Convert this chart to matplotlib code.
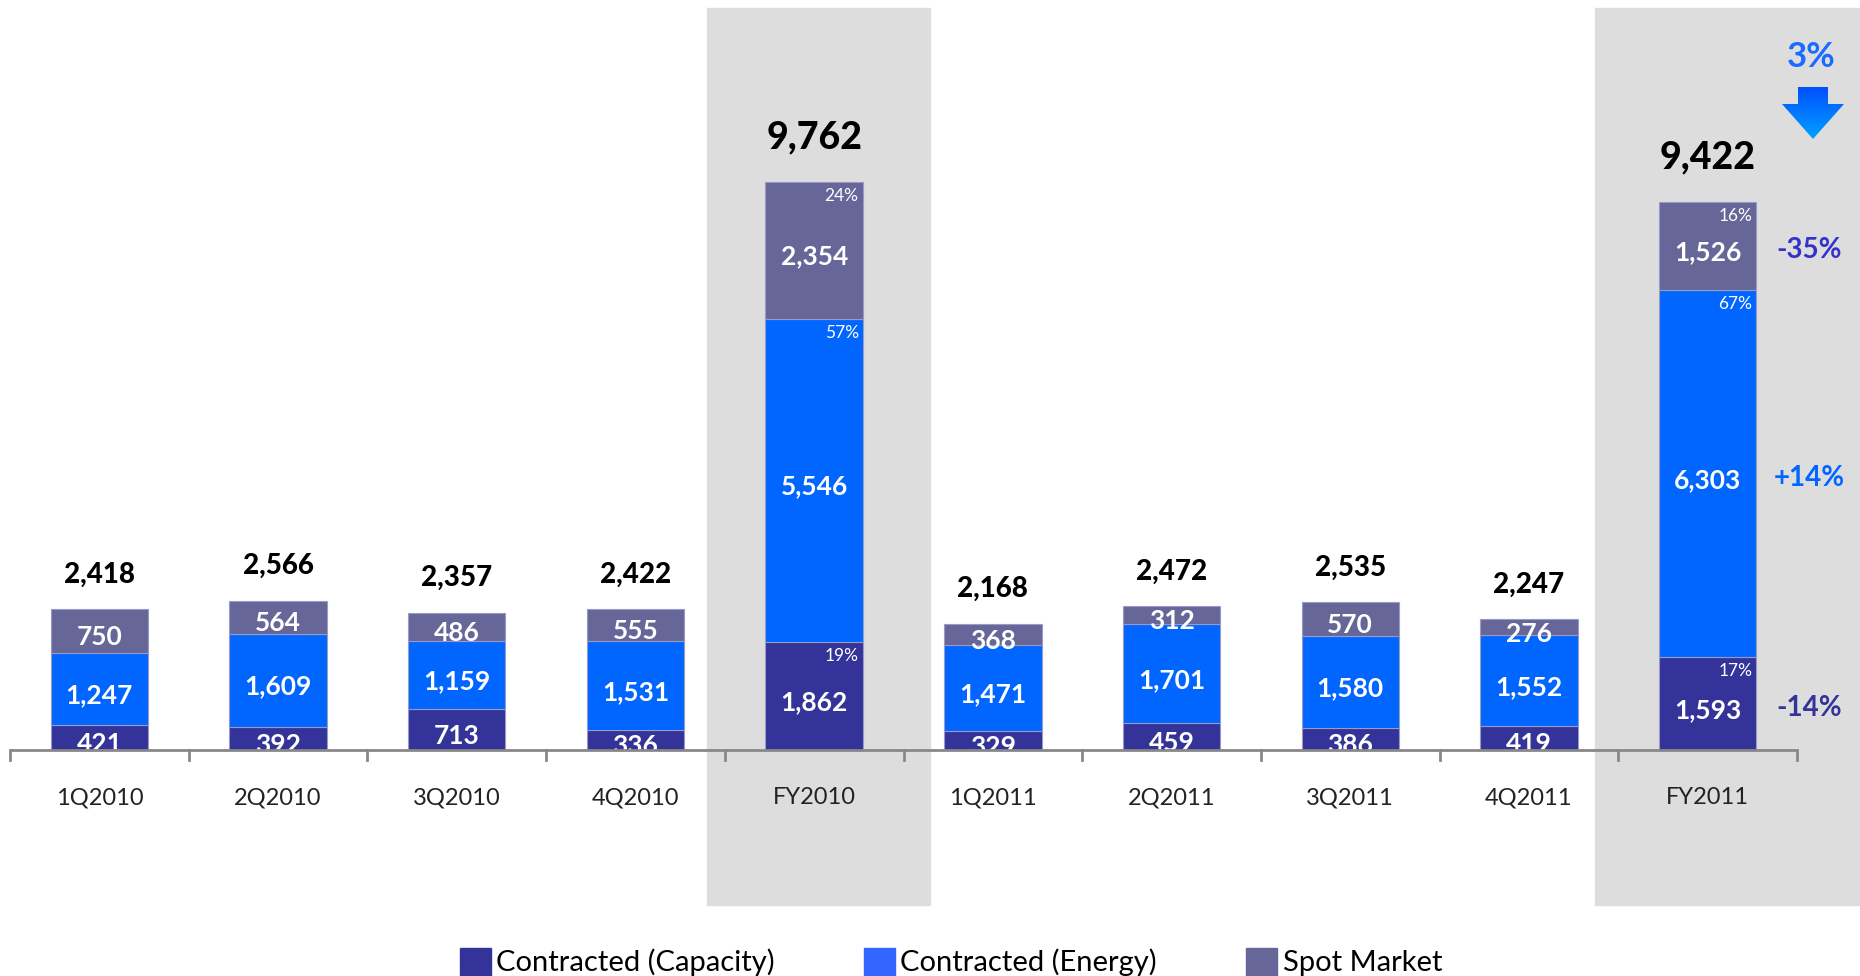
import matplotlib.pyplot as plt
import numpy as np
import matplotlib
from matplotlib.patches import Rectangle, Polygon

matplotlib.rcParams['font.family'] = ['Lato', 'DejaVu Sans']

categories = ['1Q2010', '2Q2010', '3Q2010', '4Q2010', 'FY2010',
              '1Q2011', '2Q2011', '3Q2011', '4Q2011', 'FY2011']
capacity = [421, 392, 713, 336, 1862, 329, 459, 386, 419, 1593]
energy = [1247, 1609, 1159, 1531, 5546, 1471, 1701, 1580, 1552, 6303]
spot = [750, 564, 486, 555, 2354, 368, 312, 570, 276, 1526]
totals = [2418, 2566, 2357, 2422, 9762, 2168, 2472, 2535, 2247, 9422]

fy_idx = [4, 9]
fy_shares = {4: ['19%', '57%', '24%'], 9: ['17%', '67%', '16%']}
fy_change = ['-14%', '+14%', '-35%']
total_change = '3%'

c_cap = '#333399'
c_energy = '#0066ff'
c_spot = '#666699'
c_gray = '#dddddd'

W, H = 1860, 976
fig = plt.figure(figsize=(W / 100, H / 100), dpi=100)
ax = fig.add_axes([0, 0, 1, 1])
ax.axis('off')

# one category = 178.7 px, baseline at 750 px from the top
step = 178.7
ppu = 0.0582
ax.set_xlim(-0.5 - 10 / step, -0.5 + (W - 10) / step)
ax.set_ylim(-(H - 750) / ppu, 750 / ppu)

x = np.arange(len(categories))
cap = np.array(capacity)
en = np.array(energy)
sp = np.array(spot)

# grey bands behind the full-year columns
y_top = (750 - 8) / ppu
y_bot = (750 - 905) / ppu
ax.add_patch(Rectangle((4 - 0.60, y_bot), 1.25, y_top - y_bot, color=c_gray, zorder=0))
ax.add_patch(Rectangle((9 - 0.63, y_bot), 2, y_top - y_bot, color=c_gray, zorder=0))

bw = 0.545
ec = '#9a9ac8'
ax.bar(x, cap, bw, color=c_cap, edgecolor=ec, linewidth=0.8, zorder=2)
ax.bar(x, en, bw, bottom=cap, color=c_energy, edgecolor=ec, linewidth=0.8, zorder=2)
ax.bar(x, sp, bw, bottom=cap + en, color=c_spot, edgecolor=ec, linewidth=0.8, zorder=2)

# segment values
for i in range(len(categories)):
    bottoms = [0, cap[i], cap[i] + en[i]]
    for b, v in zip(bottoms, [cap[i], en[i], sp[i]]):
        ax.annotate(f'{v:,}', (x[i], b + v / 2), xytext=(0, -4.5), textcoords='offset points',
                    ha='center', va='center', color='white', fontsize=19, fontweight='bold', zorder=3)
    top = cap[i] + en[i] + sp[i]
    if i in fy_idx:
        ax.annotate(f'{totals[i]:,}', (x[i], top), xytext=(0, 32), textcoords='offset points',
                    ha='center', va='center', color='black', fontsize=27, fontweight='black', zorder=3)
        tops = [cap[i], cap[i] + en[i], top]
        for t, s in zip(tops, fy_shares[i]):
            ax.annotate(s, (x[i] + bw / 2, t), xytext=(-3, -10), textcoords='offset points',
                        ha='right', va='center', color='white', fontsize=12.5, zorder=3)
    else:
        ax.annotate(f'{totals[i]:,}', (x[i], top), xytext=(0, 25), textcoords='offset points',
                    ha='center', va='center', color='black', fontsize=20, fontweight='black', zorder=3)

# change vs previous year, next to FY2011
i = 9
mids = [cap[i] / 2, cap[i] + en[i] / 2, cap[i] + en[i] + sp[i] / 2]
for m, txt, col in zip(mids, fy_change, ['#333399', '#0066ff', '#3333cc']):
    ax.annotate(txt, (9.567, m), xytext=(0, -3), textcoords='offset points',
                ha='center', va='center', color=col, fontsize=20, fontweight='bold', zorder=3)

fig.text(1811 / W, 1 - 57 / H, total_change, ha='center', va='center',
         color='#1a6bff', fontsize=25, fontweight='bold')

# down arrow with a blue gradient
arrow_px = [(1798, 87), (1828, 87), (1828, 104), (1844, 104), (1813, 139),
            (1782, 104), (1798, 104)]
arrow = Polygon([(px / W, 1 - py / H) for px, py in arrow_px], closed=True,
                transform=fig.transFigure, facecolor='none', edgecolor='none')
fig.patches.append(arrow)
grad = np.linspace(0, 1, 64).reshape(-1, 1)
cmap = matplotlib.colors.LinearSegmentedColormap.from_list('arr', ['#0050ff', '#00a0ff'])
gax = fig.add_axes([1782 / W, 1 - 139 / H, 62 / W, 52 / H])
gax.axis('off')
img = gax.imshow(grad, aspect='auto', cmap=cmap, extent=[0, 1, 0, 1], origin='upper')
img.set_clip_path(arrow)

# category axis
ax.plot([-0.5, 9.5], [0, 0], color='#888888', lw=2, zorder=4, solid_capstyle='butt')
tick_len = 10 / ppu
for b in np.arange(-0.5, 10, 1):
    ax.plot([b, b], [0, -tick_len], color='#888888', lw=2, zorder=4)
for i, c in enumerate(categories):
    ax.text(x[i], -48 / ppu, c, ha='center', va='center', fontsize=17, color='#222222')

# legend
handles = [Rectangle((0, 0), 1, 1, color=c) for c in [c_cap, '#3366ff', c_spot]]
leg = fig.legend(handles, ['Contracted (Capacity)', 'Contracted (Energy)', 'Spot Market'],
                 loc='center', bbox_to_anchor=(951 / W, 1 - 962 / H), ncol=3, frameon=False,
                 handlelength=1.05, handleheight=1.05, handletextpad=0.2, columnspacing=3.05,
                 prop={'size': 21})

plt.savefig('out.png', dpi=100)
